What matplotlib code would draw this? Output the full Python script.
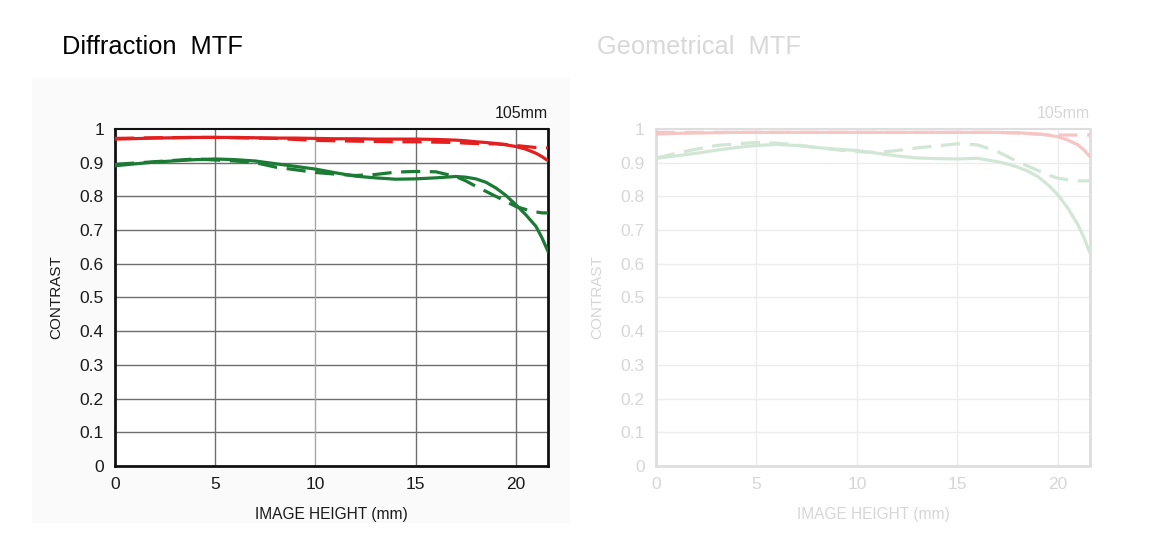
import numpy as np
import matplotlib.pyplot as plt
from matplotlib import patches

plt.rcParams['font.family'] = ['Liberation Sans', 'DejaVu Sans']

# 像高 (mm)
x_d = [0, 2, 4, 5, 6, 7, 8, 9, 10, 11, 12, 13, 14, 15, 16, 17, 17.5, 18, 18.5, 19, 19.5, 20, 20.5, 21, 21.3, 21.6]

# Diffraction MTF
diff_red_solid = [0.970, 0.973, 0.975, 0.975, 0.975, 0.974, 0.973, 0.973, 0.972, 0.971, 0.971, 0.970, 0.970, 0.970, 0.969, 0.967, 0.965, 0.962, 0.960, 0.957, 0.953, 0.948, 0.940, 0.928, 0.918, 0.906]
diff_red_dash = [0.972, 0.974, 0.975, 0.975, 0.974, 0.973, 0.972, 0.969, 0.966, 0.965, 0.964, 0.963, 0.962, 0.962, 0.961, 0.960, 0.958, 0.957, 0.956, 0.956, 0.954, 0.951, 0.948, 0.945, 0.944, 0.944]
diff_green_solid = [0.891, 0.902, 0.909, 0.911, 0.909, 0.905, 0.897, 0.889, 0.881, 0.870, 0.860, 0.855, 0.851, 0.852, 0.855, 0.859, 0.857, 0.852, 0.842, 0.825, 0.803, 0.775, 0.745, 0.711, 0.677, 0.637]
diff_green_dash = [0.895, 0.903, 0.911, 0.908, 0.905, 0.900, 0.887, 0.879, 0.871, 0.866, 0.862, 0.865, 0.872, 0.874, 0.873, 0.859, 0.846, 0.830, 0.815, 0.800, 0.785, 0.770, 0.761, 0.754, 0.751, 0.751]

# Geometrical MTF
x_g = [0, 1, 2, 3, 4, 5, 6, 7, 8, 9, 10, 11, 12, 13, 14, 15, 16, 17, 17.5, 18, 18.5, 19, 19.5, 20, 20.5, 21, 21.3, 21.6]
geo_red_solid = [0.985, 0.987, 0.988, 0.989, 0.990, 0.990, 0.990, 0.990, 0.990, 0.990, 0.990, 0.990, 0.990, 0.990, 0.990, 0.990, 0.990, 0.990, 0.989, 0.989, 0.987, 0.985, 0.982, 0.977, 0.967, 0.953, 0.938, 0.918]
geo_red_dash = [0.990, 0.990, 0.990, 0.990, 0.990, 0.990, 0.990, 0.990, 0.990, 0.990, 0.990, 0.990, 0.990, 0.990, 0.990, 0.990, 0.990, 0.990, 0.989, 0.988, 0.986, 0.985, 0.983, 0.982, 0.982, 0.982, 0.982, 0.982]
geo_green_solid = [0.913, 0.920, 0.928, 0.937, 0.945, 0.951, 0.954, 0.951, 0.945, 0.940, 0.936, 0.928, 0.920, 0.914, 0.912, 0.911, 0.913, 0.903, 0.896, 0.887, 0.875, 0.859, 0.835, 0.805, 0.765, 0.716, 0.678, 0.632]
geo_green_dash = [0.913, 0.928, 0.940, 0.951, 0.956, 0.960, 0.958, 0.953, 0.945, 0.938, 0.933, 0.930, 0.936, 0.944, 0.950, 0.956, 0.953, 0.933, 0.918, 0.903, 0.890, 0.877, 0.864, 0.854, 0.849, 0.846, 0.846, 0.846]

x_ticks = [0, 5, 10, 15, 20]
y_ticks = [0, 0.1, 0.2, 0.3, 0.4, 0.5, 0.6, 0.7, 0.8, 0.9, 1]
y_labels = ['0', '0.1', '0.2', '0.3', '0.4', '0.5', '0.6', '0.7', '0.8', '0.9', '1']


def draw_panel(ax, x, rs, rd, gs, gd, red, green, txt, frame, grid, grid10):
    ax.set_xlim(0, 21.6)
    ax.set_ylim(0, 1)
    ax.set_xticks(x_ticks)
    ax.set_yticks(y_ticks)
    ax.set_yticklabels(y_labels)
    ax.tick_params(length=0, labelsize=12.5, colors=txt, pad=8)
    for v in y_ticks[1:-1]:
        ax.axhline(v, color=grid, lw=1.0, zorder=1)
    for v in x_ticks[1:]:
        ax.axvline(v, color=grid10 if v == 10 else grid, lw=1.0, zorder=1)
    for s in ax.spines.values():
        s.set_color(frame)
        s.set_linewidth(2.0)
    ax.spines['top'].set_linewidth(1.5)
    lw = 2.3
    ax.plot(x, rd, color=red, lw=lw, dashes=(6, 3), zorder=3)
    ax.plot(x, rs, color=red, lw=lw, zorder=3)
    ax.plot(x, gd, color=green, lw=lw, dashes=(6, 3), zorder=3)
    ax.plot(x, gs, color=green, lw=lw, zorder=3)
    ax.set_xlabel('IMAGE HEIGHT (mm)', fontsize=11.2, color=txt, labelpad=11)
    ax.set_ylabel('CONTRAST', fontsize=11, color=txt, labelpad=12)
    ax.text(1.0, 1.025, '105mm', transform=ax.transAxes, ha='right', va='bottom',
            fontsize=11.5, color=txt)


fig = plt.figure(figsize=(11.5, 5.56), dpi=100)

# 薄いグレーの背景
fig.patches.append(patches.Rectangle((0.028, 0.06), 0.468, 0.80, transform=fig.transFigure,
                                     facecolor='#fafafa', edgecolor='none', zorder=-5))

ax1 = fig.add_axes([0.1, 0.162, 0.3765, 0.606])
draw_panel(ax1, x_d, diff_red_solid, diff_red_dash, diff_green_solid, diff_green_dash,
           '#e3201f', '#1b7a33', '#1a1a1a', '#111111', '#6e6e6e', '#a8a8a8')

ax2 = fig.add_axes([0.5704, 0.162, 0.3774, 0.606])
draw_panel(ax2, x_g, geo_red_solid, geo_red_dash, geo_green_solid, geo_green_dash,
           '#f6c6c6', '#d2e6d6', '#d6d6d6', '#dedede', '#ececec', '#ececec')

fig.text(0.054, 0.915, 'Diffraction  MTF', fontsize=18.3, color='black', va='center')
fig.text(0.519, 0.915, 'Geometrical  MTF', fontsize=18.3, color='#d8d8d8', va='center')

fig.savefig('out.png', dpi=100, facecolor='white')
